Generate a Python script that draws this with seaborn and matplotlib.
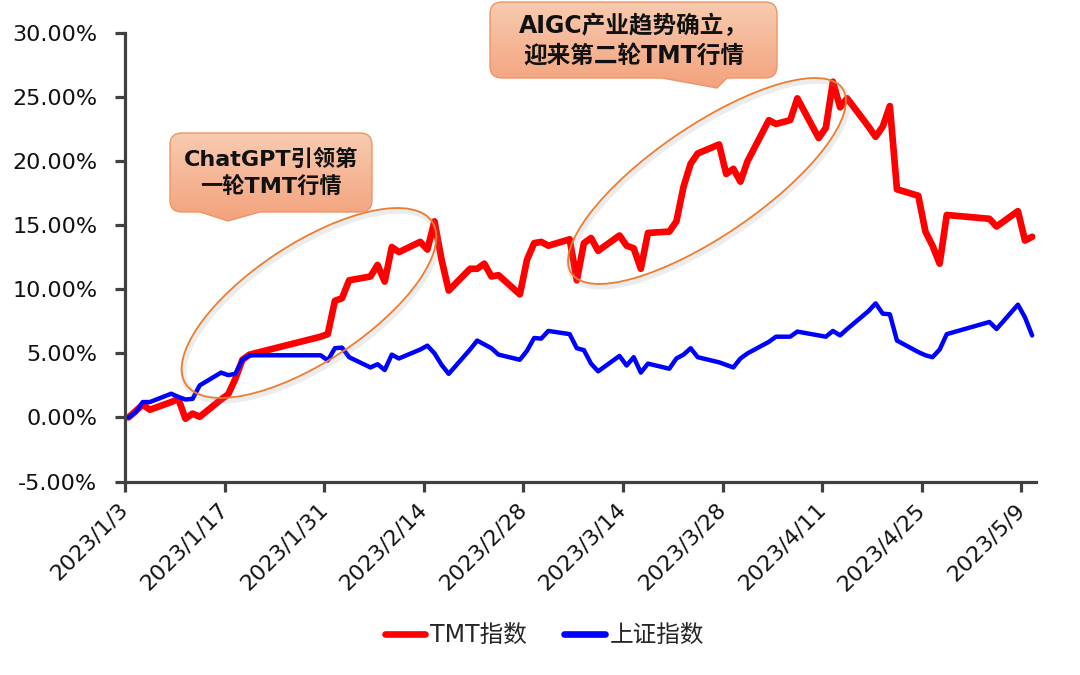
import numpy as np
import pandas as pd
import matplotlib
matplotlib.use("Agg")
import matplotlib.pyplot as plt
import matplotlib.dates as mdates
from matplotlib.patches import Ellipse, PathPatch
from matplotlib.path import Path
from matplotlib.ticker import FuncFormatter
from matplotlib.colors import to_rgb
import seaborn as sns

# ---------------- data (cumulative return, %) ----------------
dates = [
    "2023-01-03", "2023-01-04", "2023-01-05", "2023-01-06",
    "2023-01-09", "2023-01-10", "2023-01-11", "2023-01-12", "2023-01-13",
    "2023-01-16", "2023-01-17", "2023-01-18", "2023-01-19", "2023-01-20",
    "2023-01-30", "2023-01-31", "2023-02-01", "2023-02-02", "2023-02-03",
    "2023-02-06", "2023-02-07", "2023-02-08", "2023-02-09", "2023-02-10",
    "2023-02-13", "2023-02-14", "2023-02-15", "2023-02-16", "2023-02-17",
    "2023-02-20", "2023-02-21", "2023-02-22", "2023-02-23", "2023-02-24",
    "2023-02-27", "2023-02-28", "2023-03-01", "2023-03-02", "2023-03-03",
    "2023-03-06", "2023-03-07", "2023-03-08", "2023-03-09", "2023-03-10",
    "2023-03-13", "2023-03-14", "2023-03-15", "2023-03-16", "2023-03-17",
    "2023-03-20", "2023-03-21", "2023-03-22", "2023-03-23", "2023-03-24",
    "2023-03-27", "2023-03-28", "2023-03-29", "2023-03-30", "2023-03-31",
    "2023-04-03", "2023-04-04", "2023-04-06", "2023-04-07",
    "2023-04-10", "2023-04-11", "2023-04-12", "2023-04-13", "2023-04-14",
    "2023-04-17", "2023-04-18", "2023-04-19", "2023-04-20", "2023-04-21",
    "2023-04-24", "2023-04-25", "2023-04-26", "2023-04-27", "2023-04-28",
    "2023-05-04", "2023-05-05", "2023-05-08", "2023-05-09", "2023-05-10",
]
tmt = [
    0.0, 0.5, 1.0, 0.6,
    1.2, 1.45, -0.1, 0.3, 0.05,
    1.4, 1.8, 3.0, 4.5, 4.9,
    6.3, 6.5, 9.1, 9.3, 10.7,
    11.0, 11.9, 10.6, 13.3, 12.9,
    13.7, 13.1, 15.3, 12.3, 9.9,
    11.6, 11.6, 12.0, 11.0, 11.1,
    9.6, 12.3, 13.6, 13.7, 13.4,
    13.9, 10.7, 13.6, 14.0, 13.0,
    14.2, 13.4, 13.2, 11.6, 14.4,
    14.5, 15.3, 18.0, 19.8, 20.6,
    21.3, 19.0, 19.4, 18.4, 20.0,
    23.2, 22.9, 23.2, 24.9,
    21.8, 22.6, 26.2, 24.2, 24.9,
    22.7, 21.9, 22.7, 24.3, 17.8,
    17.3, 14.5, 13.4, 12.0, 15.8,
    15.5, 14.9, 16.1, 13.8, 14.1,
]
sh = [
    0.0, 0.4, 1.2, 1.2,
    1.85, 1.6, 1.4, 1.45, 2.5,
    3.5, 3.3, 3.4, 4.5, 4.85,
    4.85, 4.45, 5.4, 5.45, 4.7,
    3.9, 4.15, 3.7, 4.9, 4.6,
    5.3, 5.6, 5.0, 4.1, 3.4,
    5.3, 6.0, 5.7, 5.4, 4.9,
    4.5, 5.2, 6.2, 6.15, 6.75,
    6.5, 5.4, 5.25, 4.2, 3.6,
    4.8, 4.05, 4.7, 3.5, 4.2,
    3.8, 4.6, 4.9, 5.4, 4.7,
    4.3, 4.1, 3.9, 4.6, 5.0,
    5.9, 6.3, 6.3, 6.7,
    6.4, 6.3, 6.75, 6.4, 6.9,
    8.3, 8.9, 8.1, 8.05, 6.0,
    5.1, 4.85, 4.7, 5.3, 6.5,
    7.45, 6.9, 8.8, 7.8, 6.4,
]
series_names = ["TMT指数", "上证指数"]
series_colors = ["#FF0000", "#0000FF"]
y_ticks = [-5, 0, 5, 10, 15, 20, 25, 30]
x_ticks = ["2023-01-03", "2023-01-17", "2023-01-31", "2023-02-14", "2023-02-28",
           "2023-03-14", "2023-03-28", "2023-04-11", "2023-04-25", "2023-05-09"]
x_range = ["2023-01-03", "2023-05-11"]
note1 = "ChatGPT引领第\n一轮TMT行情"
note2 = "AIGC产业趋势确立，\n迎来第二轮TMT行情"

# ---------------- style ----------------
sns.set_theme(style="white")
plt.rcParams['font.family'] = ['DejaVu Sans', 'Noto Sans CJK SC']
plt.rcParams['axes.unicode_minus'] = False

df = pd.DataFrame({"date": pd.to_datetime(dates) + pd.Timedelta(hours=12),
                   series_names[0]: tmt, series_names[1]: sh})
long = df.melt(id_vars="date", var_name="series", value_name="ret")

W, H = 1080, 675
fig = plt.figure(figsize=(W / 100, H / 100), dpi=100)
fig.patch.set_facecolor("white")
ax = fig.add_axes([125 / W, 1 - 481.5 / H, (1035.7 - 125) / W, (481.5 - 33) / H])

lws = [4.8, 3.2]
for name, col, lw in zip(series_names, series_colors, lws):
    sns.lineplot(data=long[long["series"] == name], x="date", y="ret", color=col,
                 linewidth=lw, ax=ax, label=name, solid_joinstyle="round",
                 solid_capstyle="round")

ax.set_xlim(pd.to_datetime(x_range[0]), pd.to_datetime(x_range[1]))
ax.set_ylim(y_ticks[0], y_ticks[-1])
ax.set_yticks(y_ticks)
ax.yaxis.set_major_formatter(FuncFormatter(lambda v, p: f"{v:.2f}%"))
ax.set_xticks(pd.to_datetime(x_ticks))


def fmt_date(v, p):
    d = mdates.num2date(v)
    return f"{d.year}/{d.month}/{d.day}"


ax.xaxis.set_major_formatter(FuncFormatter(fmt_date))
ax.set_xlabel("")
ax.set_ylabel("")

for s in ["top", "right"]:
    ax.spines[s].set_visible(False)
for s in ["left", "bottom"]:
    ax.spines[s].set_color("#404040")
    ax.spines[s].set_linewidth(2.3)
ax.tick_params(axis="both", which="major", direction="out", length=7, width=2.3,
               color="#404040", labelsize=16, labelcolor="#111111",
               bottom=True, left=True)
ax.tick_params(axis="y", pad=13)
ax.tick_params(axis="x", pad=11)
for lab in ax.get_xticklabels():
    lab.set_rotation(45)
    lab.set_ha("right")
    lab.set_va("center")
    lab.set_rotation_mode("anchor")

handles, labels = ax.get_legend_handles_labels()
if ax.get_legend() is not None:
    ax.get_legend().remove()
leg = fig.legend(handles, labels, loc="center", bbox_to_anchor=(0.504, 0.059), ncol=2,
                 frameon=False, fontsize=17, handlelength=1.7, handletextpad=0.2,
                 columnspacing=1.6)
for lh in leg.get_lines():
    lh.set_linewidth(4.8)

# ---------------- annotations overlay (pixel coords, y down) ----------------
ov = fig.add_axes([0, 0, 1, 1], zorder=5)
ov.set_xlim(0, W)
ov.set_ylim(H, 0)
ov.axis("off")
ov.patch.set_alpha(0)

for (cx, cy, ew, eh, ang) in [(309, 303, 295, 118, -33.4), (707, 181, 328, 110, -34.3)]:
    ov.add_patch(Ellipse((cx + 1.5, cy + 2.5), ew, eh, angle=ang, fill=False,
                         ec="#8a8a8a", lw=4.5, alpha=0.16))
    ov.add_patch(Ellipse((cx, cy), ew, eh, angle=ang, fill=False,
                         ec="#ED7D31", lw=1.3))


def callout_path(x0, y0, x1, y1, r, pl, tip, pr):
    v = [(x0 + r, y0), (x1 - r, y0), (x1, y0), (x1, y0 + r), (x1, y1 - r),
         (x1, y1), (x1 - r, y1), (pr, y1), tip, (pl, y1), (x0 + r, y1),
         (x0, y1), (x0, y1 - r), (x0, y0 + r), (x0, y0), (x0 + r, y0), (x0 + r, y0)]
    c = [Path.MOVETO, Path.LINETO, Path.CURVE3, Path.CURVE3, Path.LINETO,
         Path.CURVE3, Path.CURVE3, Path.LINETO, Path.LINETO, Path.LINETO, Path.LINETO,
         Path.CURVE3, Path.CURVE3, Path.LINETO, Path.CURVE3, Path.CURVE3, Path.CLOSEPOLY]
    return Path(v, c)


top_c = np.array(to_rgb("#F8CBB0"))
bot_c = np.array(to_rgb("#F3A27C"))
grad = np.linspace(0, 1, 256)[:, None, None]
grad_img = top_c[None, None, :] * (1 - grad) + bot_c[None, None, :] * grad

boxes = [
    dict(x0=170, y0=133, x1=372, y1=212, pl=200, tip=(228, 221), pr=260,
         text=note1, fs=16, ty=173),
    dict(x0=490, y0=2, x1=777, y1=78, pl=662, tip=(717, 88), pr=727,
         text=note2, fs=17, ty=41),
]
for b in boxes:
    path = callout_path(b["x0"], b["y0"], b["x1"], b["y1"], 12, b["pl"], b["tip"], b["pr"])
    patch = PathPatch(path, facecolor="none", edgecolor="#EE9566", lw=1.0, zorder=6)
    ov.add_patch(patch)
    im = ov.imshow(grad_img, extent=[b["x0"], b["x1"], b["tip"][1], b["y0"]],
                   aspect="auto", zorder=5, interpolation="bilinear")
    im.set_clip_path(patch)
    ov.text((b["x0"] + b["x1"]) / 2, b["ty"], b["text"], ha="center", va="center",
            fontsize=b["fs"], fontweight="bold", color="#111111", linespacing=1.3,
            zorder=7)
ov.set_xlim(0, W)
ov.set_ylim(H, 0)

fig.savefig("out.png", dpi=100, facecolor="white")
